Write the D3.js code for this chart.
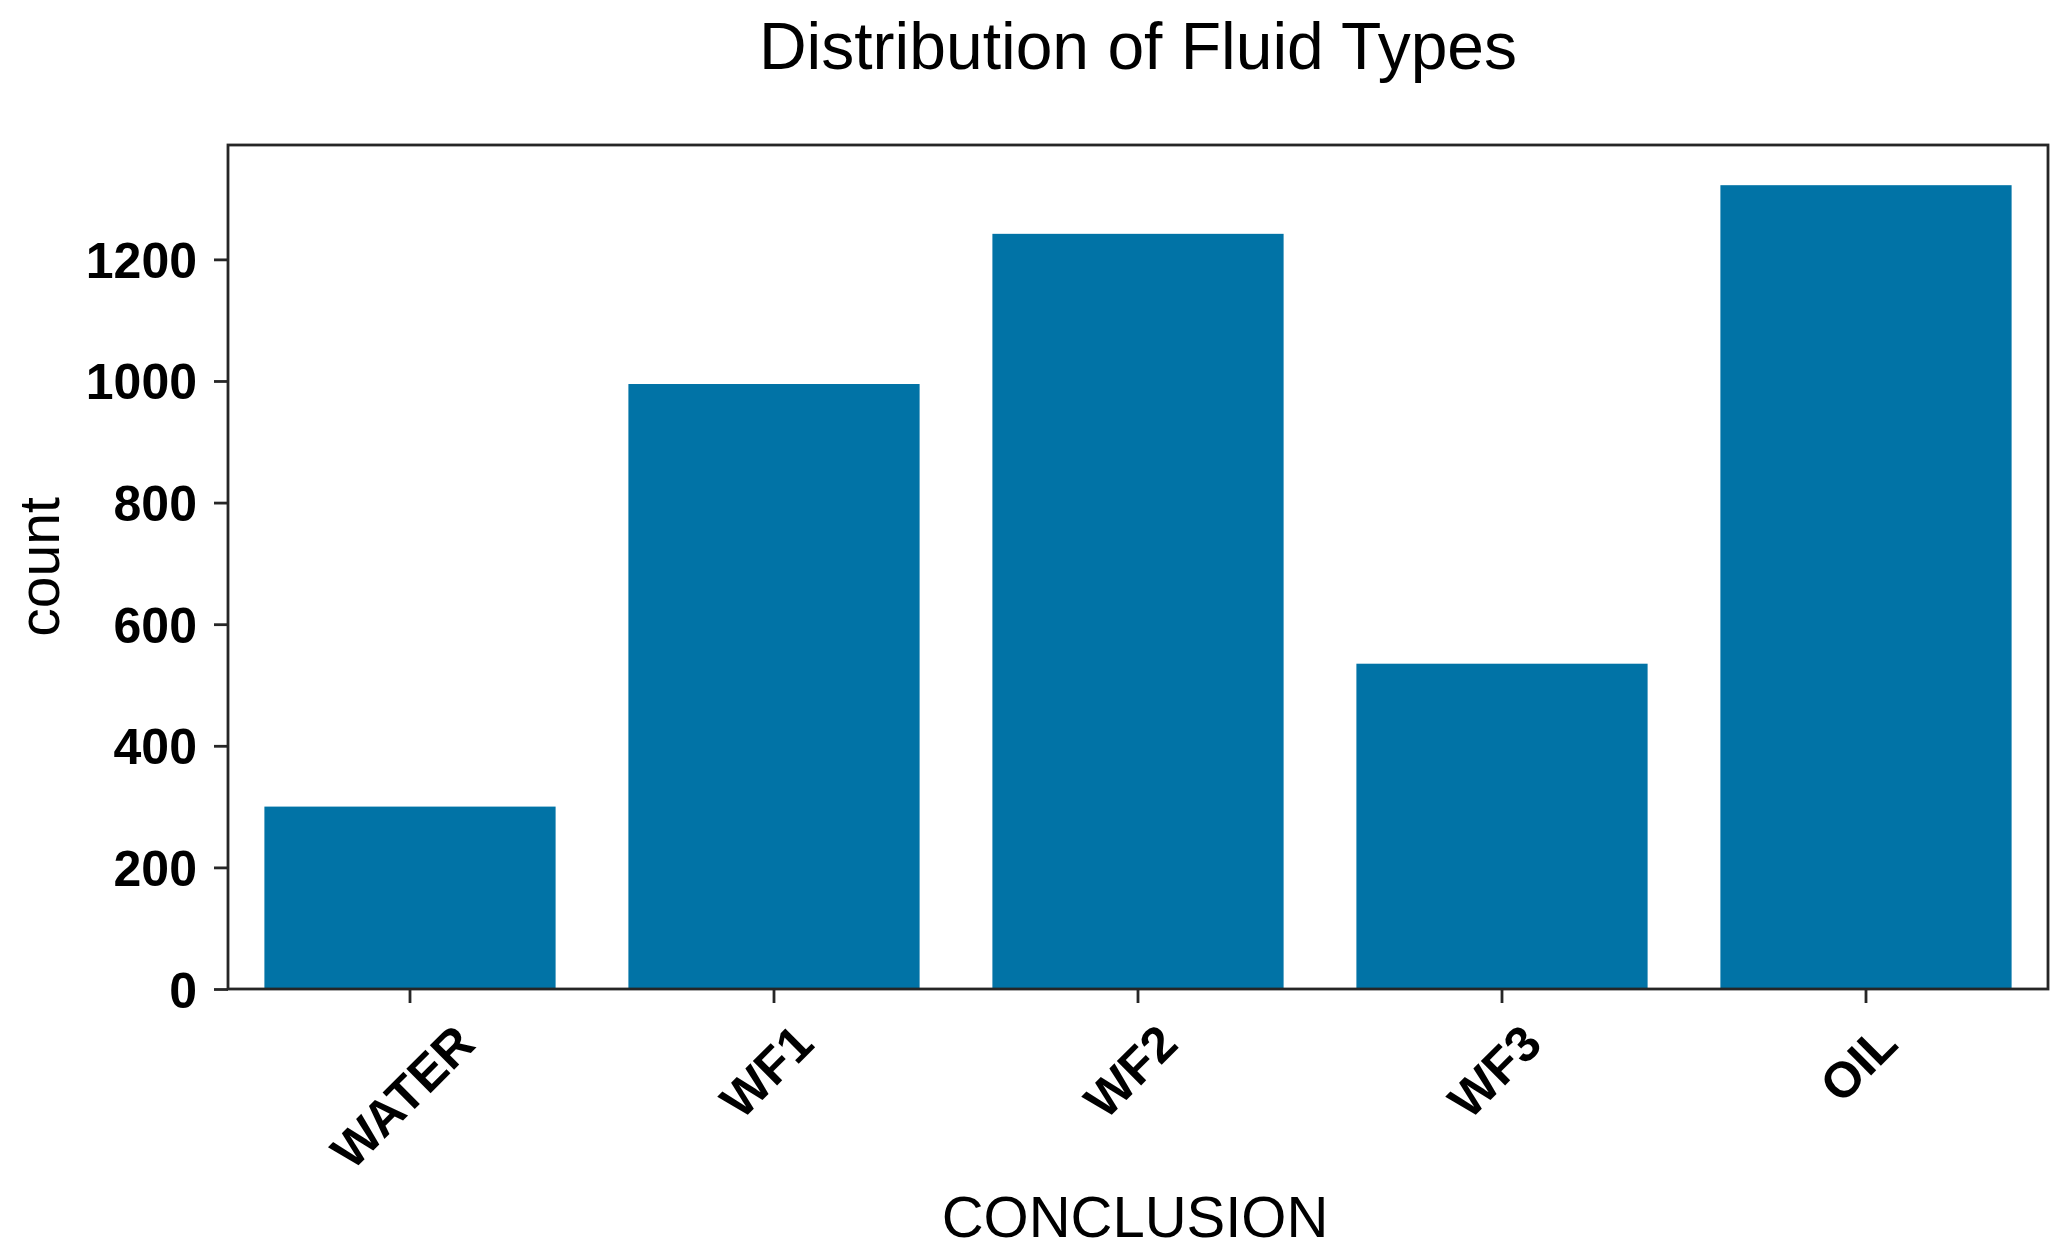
<!DOCTYPE html>
<html>
<head>
<meta charset="utf-8">
<script src="https://cdn.jsdelivr.net/npm/d3@7"></script>
<style>
  html, body { margin: 0; padding: 0; background: #fff; }
  svg { display: block; }
  text { font-family: "Liberation Sans", Arial, sans-serif; fill: #000; }
</style>
</head>
<body>
<svg id="chart" width="2068" height="1260"></svg>
<script>
const categories = ["WATER", "WF1", "WF2", "WF3", "OIL"];
const counts = [300, 995, 1242, 535, 1322];
const yTicks = [0, 200, 400, 600, 800, 1000, 1200];
const titleText = "Distribution of Fluid Types";
const xLabel = "CONCLUSION";
const yLabel = "count";

const W = 2068, H = 1260;
const margin = { left: 228, right: 20, top: 145, bottom: 271 };
const plotL = margin.left, plotR = W - margin.right;
const plotT = margin.top, plotB = H - margin.bottom;

const svg = d3.select("#chart");

const x = d3.scaleBand()
  .domain(categories)
  .range([plotL, plotR])
  .paddingInner(0.2)
  .paddingOuter(0.1);

const y = d3.scaleLinear()
  .domain([0, d3.max(counts) * 1.05])
  .range([plotB, plotT]);

const barColor = "#0173a6";
const axisColor = "#262626";

// bars
svg.append("g")
  .selectAll("rect")
  .data(categories)
  .join("rect")
  .attr("x", d => x(d))
  .attr("width", x.bandwidth())
  .attr("y", (d, i) => y(counts[i]))
  .attr("height", (d, i) => y(0) - y(counts[i]))
  .attr("fill", barColor);

// y axis
const yAxis = svg.append("g")
  .attr("transform", `translate(${plotL},0)`)
  .call(d3.axisLeft(y).tickValues(yTicks).tickSize(14).tickPadding(17).tickFormat(d3.format("d")));
yAxis.select(".domain").remove();
yAxis.selectAll(".tick line").attr("stroke", axisColor).attr("stroke-width", 2.8);
yAxis.selectAll(".tick text")
  .attr("font-size", 50)
  .attr("font-weight", "bold")
  .attr("font-family", "'Liberation Sans', Arial, sans-serif")
  .attr("fill", "#000")
  .attr("dy", "0.36em");

// x axis
const xAxis = svg.append("g")
  .attr("transform", `translate(0,${plotB})`)
  .call(d3.axisBottom(x).tickSize(14).tickPadding(0));
xAxis.select(".domain").remove();
xAxis.selectAll(".tick line").attr("stroke", axisColor).attr("stroke-width", 2.8);
xAxis.selectAll(".tick text")
  .attr("font-size", 50)
  .attr("font-weight", "bold")
  .attr("font-family", "'Liberation Sans', Arial, sans-serif")
  .attr("fill", "#000")
  .attr("text-anchor", "middle")
  .attr("dy", null)
  .each(function() {
    const t = d3.select(this);
    const w = this.getComputedTextLength();
    const capH = 36;
    const half = (w + capH) / Math.SQRT2 / 2;
    const top = 14 + 18;
    const cy = top + half;
    t.attr("x", 0).attr("y", 0)
     .attr("transform", `translate(-8,${cy}) rotate(-45)`)
     .attr("dy", capH / 2);
  });

// frame
svg.append("rect")
  .attr("x", plotL).attr("y", plotT)
  .attr("width", plotR - plotL).attr("height", plotB - plotT)
  .attr("fill", "none")
  .attr("stroke", axisColor)
  .attr("stroke-width", 2.8);

// title
svg.append("text")
  .attr("x", (plotL + plotR) / 2)
  .attr("y", 69)
  .attr("text-anchor", "middle")
  .attr("font-size", 66)
  .text(titleText);

// x label
svg.append("text")
  .attr("x", (plotL + plotR) / 2 - 3)
  .attr("y", 1237)
  .attr("text-anchor", "middle")
  .attr("font-size", 58)
  .text(xLabel);

// y label
svg.append("text")
  .attr("transform", `translate(59,${(plotT + plotB) / 2}) rotate(-90)`)
  .attr("text-anchor", "middle")
  .attr("font-size", 57)
  .text(yLabel);
</script>
</body>
</html>
